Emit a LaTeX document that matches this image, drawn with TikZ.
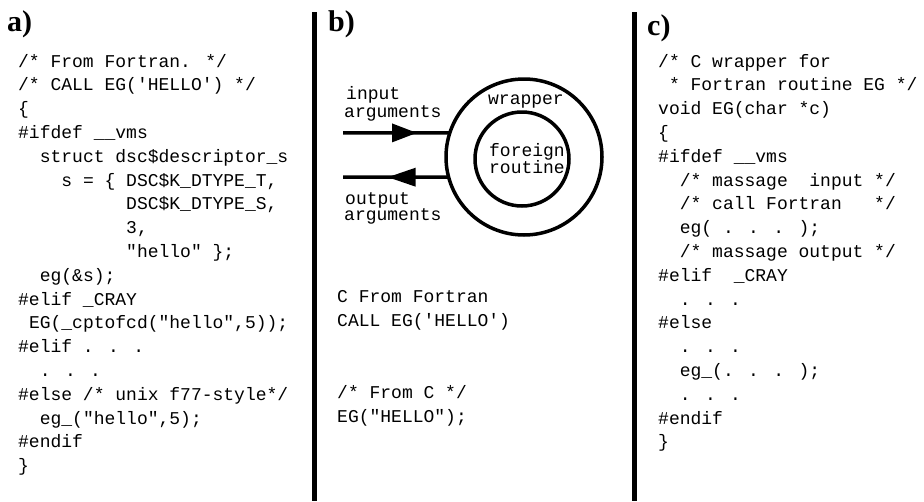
\documentclass[tikz,border=0pt]{standalone}
\usepackage{fontspec}
\newfontfamily\codefont{Liberation Mono}
\newfontfamily\labfont{Liberation Serif}
\usetikzlibrary{arrows.meta,decorations.markings}
\def\cw{10.8}
\def\ls{23.8}
\def\xa{18}
\def\xc{658}
\def\ya{67}
\begin{document}
\begin{tikzpicture}[x=1pt,y=-1pt,
  code/.style={anchor=base west, inner sep=0, font=\codefont\fontsize{18}{18}\selectfont},
  ctext/.style={anchor=base, inner sep=0, font=\codefont\fontsize{18}{18}\selectfont},
  lbl/.style={anchor=base west, inner sep=0, font=\labfont\bfseries\fontsize{30}{30}\selectfont},
  bar/.style={line width=5.5pt},
  ring/.style={circle, draw, line width=3.5pt, inner sep=0pt, outer sep=0pt},
  conn/.style={line width=3.5pt},
]
\useasboundingbox (0,0) rectangle (924,501);

% panel labels
\node[lbl] (la) at (7,31) {a)};
\node[lbl] (lb) at (328,31) {b)};
\node[lbl] (lc) at (647,35) {c)};

% separator bars
\coordinate (b1t) at (314.5,12);
\coordinate (b1b) at (314.5,501);
\coordinate (b2t) at (634.5,12);
\coordinate (b2b) at (634.5,501);
\draw[bar] (b1t) -- (b1b);
\draw[bar] (b2t) -- (b2b);

% ---- column a ----
\node[code] (a1)  at ({\xa},{\ya+0*\ls})  {/* From Fortran. */};
\node[code] (a2)  at ({\xa},{\ya+1*\ls})  {/* CALL EG('HELLO') */};
\node[code] (a3)  at ({\xa},{\ya+2*\ls})  {\{};
\node[code] (a4)  at ({\xa},{\ya+3*\ls})  {\#ifdef \_\_vms};
\node[code] (a5)  at ({\xa+2*\cw},{\ya+4*\ls})  {struct dsc\$descriptor\_s};
\node[code] (a6)  at ({\xa+4*\cw},{\ya+5*\ls})  {s = \{ DSC\$K\_DTYPE\_T,};
\node[code] (a7)  at ({\xa+10*\cw},{\ya+6*\ls}) {DSC\$K\_DTYPE\_S,};
\node[code] (a8)  at ({\xa+10*\cw},{\ya+7*\ls}) {3,};
\node[code] (a9)  at ({\xa+10*\cw},{\ya+8*\ls}) {"hello" \};};
\node[code] (a10) at ({\xa+2*\cw},{\ya+9*\ls})  {eg(\&s);};
\node[code] (a11) at ({\xa},{\ya+10*\ls}) {\#elif \_CRAY};
\node[code] (a12) at ({\xa+1*\cw},{\ya+11*\ls}) {EG(\_cptofcd("hello",5));};
\node[code] (a13) at ({\xa},{\ya+12*\ls}) {\#elif . . .};
\node[code] (a14) at ({\xa+2*\cw},{\ya+13*\ls}) {. . .};
\node[code] (a15) at ({\xa},{\ya+14*\ls}) {\#else /* unix f77-style*/};
\node[code] (a16) at ({\xa+2*\cw},{\ya+15*\ls}) {eg\_("hello",5);};
\node[code] (a17) at ({\xa},{\ya+16*\ls}) {\#endif};
\node[code] (a18) at ({\xa},{\ya+17*\ls}) {\}};

% ---- column b ----
\node[ring, minimum size=156pt] (outer) at (524,157) {};
\node[ring, minimum size=94pt] (inner) at (522,159) {};
\node[ctext] (wrap) at (526,104) {wrapper};
\node[ctext] (for1) at (527,156.5) {foreign};
\node[ctext] (for2) at (527,173) {routine};

\node[code] (in1) at (346,99) {input};
\node[code] (in2) at (344,117) {arguments};
\node[code] (out1) at (345,204) {output};
\node[code] (out2) at (344,220.5) {arguments};

\coordinate (inL) at (343,132.9);
\coordinate (outL) at (343,177.2);
\draw[conn, postaction={decorate}, decoration={markings,
   mark=at position 74pt with {\arrow{Triangle[length=25pt,width=18pt]}}}]
   (inL) -- (outer.162);
\draw[conn, postaction={decorate}, decoration={markings,
   mark=at position 61pt with {\arrow{Triangle[length=28pt,width=18pt]}}}]
   (outer.195) -- (outL);

\node[code] (m1) at (337,302) {C From Fortran};
\node[code] (m2) at (337,326) {CALL EG('HELLO')};
\node[code] (m3) at (337,398) {/* From C */};
\node[code] (m4) at (337,422) {EG("HELLO");};

% ---- column c ----
\node[code] (c1)  at ({\xc},{\ya+0*\ls})  {/* C wrapper for};
\node[code] (c2)  at ({\xc+1*\cw},{\ya+1*\ls})  {* Fortran routine EG */};
\node[code] (c3)  at ({\xc},{\ya+2*\ls})  {void EG(char *c)};
\node[code] (c4)  at ({\xc},{\ya+3*\ls})  {\{};
\node[code] (c5)  at ({\xc},{\ya+4*\ls})  {\#ifdef \_\_vms};
\node[code] (c6)  at ({\xc+2*\cw},{\ya+5*\ls})  {/* massage\ \ input */};
\node[code] (c7)  at ({\xc+2*\cw},{\ya+6*\ls})  {/* call Fortran\ \ \ */};
\node[code] (c8)  at ({\xc+2*\cw},{\ya+7*\ls})  {eg( . . . );};
\node[code] (c9)  at ({\xc+2*\cw},{\ya+8*\ls})  {/* massage output */};
\node[code] (c10) at ({\xc},{\ya+9*\ls})  {\#elif\ \ \_CRAY};
\node[code] (c11) at ({\xc+2*\cw},{\ya+10*\ls}) {. . .};
\node[code] (c12) at ({\xc},{\ya+11*\ls}) {\#else};
\node[code] (c13) at ({\xc+2*\cw},{\ya+12*\ls}) {. . .};
\node[code] (c14) at ({\xc+2*\cw},{\ya+13*\ls}) {eg\_(. . . );};
\node[code] (c15) at ({\xc+2*\cw},{\ya+14*\ls}) {. . .};
\node[code] (c16) at ({\xc},{\ya+15*\ls}) {\#endif};
\node[code] (c17) at ({\xc},{\ya+16*\ls}) {\}};
\end{tikzpicture}
\end{document}
